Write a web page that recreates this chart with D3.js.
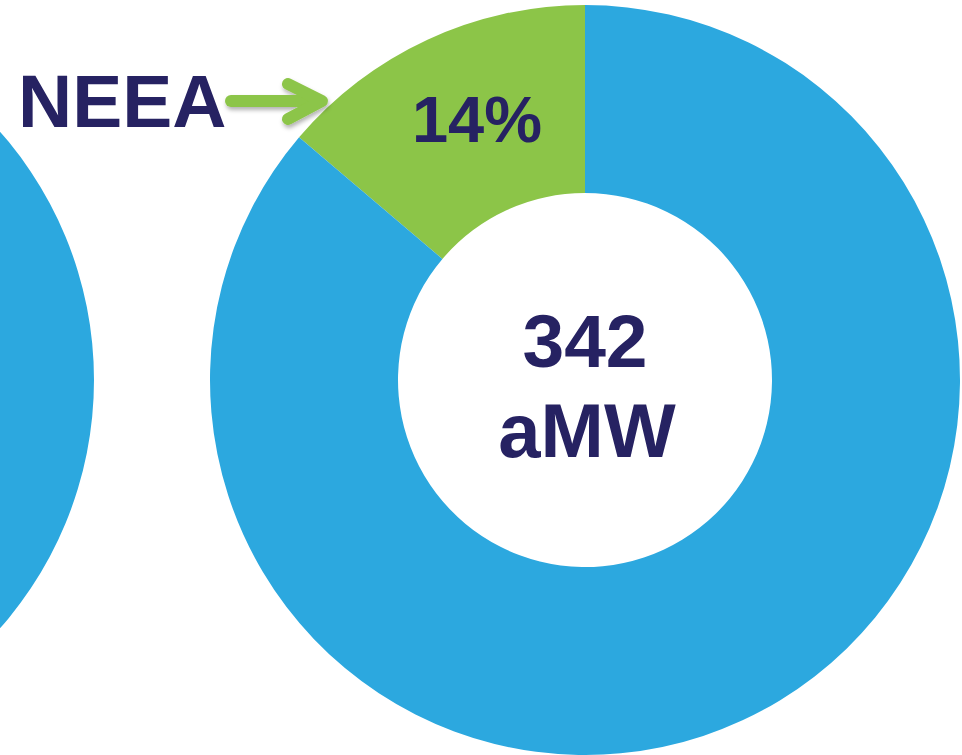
<!DOCTYPE html>
<html>
<head>
<meta charset="utf-8">
<script src="https://d3js.org/d3.v7.min.js"></script>
<style>
  body { margin: 0; background: #fff; }
  text { font-family: "Liberation Sans", Arial, sans-serif; font-weight: bold; fill: #262262; }
</style>
</head>
<body>
<div id="my_dataviz"></div>
<script>
  // data
  var categories = ["NEEA", "Other"];
  var shares = [13.8, 86.2];        // percent of savings
  var total = ["342", "aMW"];       // centre label
  var leftShares = [100];           // neighbour donut, only its blue part is visible
  var colours = ["#8cc548", "#2ca8df"];

  var width = 962, height = 755;
  var outerR = 375, innerR = 187;

  var svg = d3.select("#my_dataviz")
    .append("svg")
      .attr("width", width)
      .attr("height", height);

  var defs = svg.append("defs");
  var f = defs.append("filter").attr("id", "shadow")
      .attr("x", "-20%").attr("y", "-50%").attr("width", "140%").attr("height", "200%");
  f.append("feDropShadow")
      .attr("dx", 1).attr("dy", 3).attr("stdDeviation", 2)
      .attr("flood-color", "#000").attr("flood-opacity", 0.3);

  var arc = d3.arc().innerRadius(innerR).outerRadius(outerR);

  // left donut (cut off by the window)
  var leftPie = d3.pie().sort(null);
  svg.append("g")
      .attr("transform", "translate(-281,380)")
    .selectAll("path")
    .data(leftPie(leftShares))
    .enter()
    .append("path")
      .attr("d", arc)
      .style("fill", colours[1]);

  // main donut, NEEA slice ends at 12 o'clock
  var sum = d3.sum(shares);
  var start = -2 * Math.PI * shares[0] / sum;
  var pie = d3.pie().sort(null).startAngle(start).endAngle(start + 2 * Math.PI);
  var g = svg.append("g").attr("transform", "translate(585,380)");
  var slices = pie(shares);

  g.selectAll("path")
    .data(slices)
    .enter()
    .append("path")
      .attr("d", arc)
      .style("fill", function(d, i) { return colours[i]; });

  // percentage label on the small slice
  var c = arc.centroid(slices[0]);
  g.append("text")
      .attr("x", c[0] + 10)
      .attr("y", -238)
      .attr("text-anchor", "middle")
      .style("font-size", "65px")
      .text(Math.round(shares[0]) + "%");

  // centre text
  g.append("text")
      .attr("x", 0).attr("y", -13)
      .attr("text-anchor", "middle")
      .style("font-size", "75px")
      .text(total[0]);
  g.append("text")
      .attr("x", 2).attr("y", 77)
      .attr("text-anchor", "middle")
      .style("font-size", "76px")
      .text(total[1]);

  // NEEA callout with arrow
  svg.append("text")
      .attr("x", 18).attr("y", 127)
      .style("font-size", "75px")
      .text(categories[0]);

  var arrow = svg.append("g")
      .attr("filter", "url(#shadow)")
      .style("fill", "none")
      .style("stroke", colours[0])
      .style("stroke-width", 12)
      .style("stroke-linecap", "round")
      .style("stroke-linejoin", "round");
  arrow.append("line")
      .attr("x1", 231).attr("y1", 101)
      .attr("x2", 318).attr("y2", 101);
  arrow.append("polyline")
      .attr("points", "288,84 322,101 288,119");
</script>
</body>
</html>
